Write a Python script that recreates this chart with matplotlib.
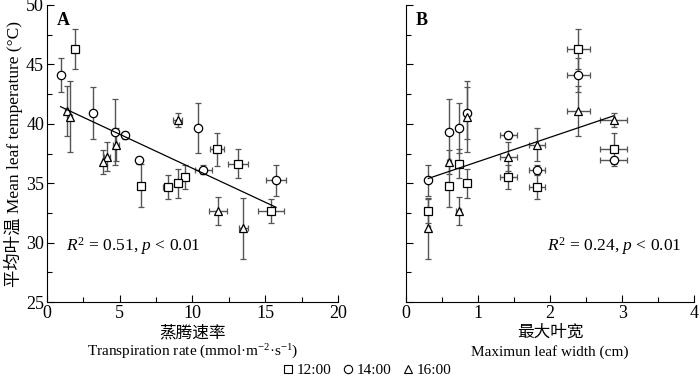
import numpy as np
import matplotlib
matplotlib.use("Agg")
import matplotlib.pyplot as plt
from matplotlib.lines import Line2D

plt.rcParams['font.family'] = ['Liberation Serif', 'Noto Sans CJK SC']
plt.rcParams['mathtext.fontset'] = 'custom'
plt.rcParams['mathtext.rm'] = 'Liberation Serif'
plt.rcParams['mathtext.it'] = 'Liberation Serif:italic'

# 8 species; values per time of day
times = ['12:00', '14:00', '16:00']
markers = ['s', 'o', '^']

leaf_width = [2.39, 2.88, 1.42, 1.82, 0.31, 0.60, 0.73, 0.85]
leaf_width_err = [0.16, 0.19, 0.12, 0.11, 0.02, 0.03, 0.03, 0.03]

temp_12 = [46.3, 37.85, 35.55, 34.7, 32.65, 34.8, 36.65, 35.0]
temp_14 = [44.1, 36.95, 39.05, 36.15, 35.25, 39.3, 39.65, 40.9]
temp_16 = [41.05, 40.35, 37.25, 38.25, 31.2, 36.8, 32.65, 40.6]
temp_12_err = [1.65, 1.4, 1.0, 1.0, 1.0, 1.8, 1.2, 1.2]
temp_14_err = [1.4, 0.3, 0.3, 0.4, 1.3, 2.8, 2.1, 2.2]
temp_16_err = [2.1, 0.6, 1.2, 1.4, 2.6, 1.0, 1.2, 3.0]

trans_12 = [1.9, 11.68, 9.5, 8.3, 15.4, 6.46, 13.1, 9.0]
trans_14 = [0.94, 6.3, 5.38, 10.74, 15.74, 4.65, 10.38, 3.18]
trans_16 = [1.35, 8.98, 4.1, 4.74, 13.5, 3.87, 11.75, 1.6]
trans_12_err = [0.1, 0.45, 0.15, 0.3, 0.87, 0.1, 0.69, 0.2]
trans_14_err = [0.1, 0.1, 0.2, 0.6, 0.7, 0.1, 0.1, 0.1]
trans_16_err = [0.1, 0.3, 0.2, 0.2, 0.3, 0.1, 0.6, 0.1]

# regression lines: (intercept, slope, x range)
fit_A = (41.98, -0.572, 0.94, 15.74)
fit_B = (34.77, 2.05, 0.31, 2.88)

temps = [temp_12, temp_14, temp_16]
temp_errs = [temp_12_err, temp_14_err, temp_16_err]
trans = [trans_12, trans_14, trans_16]
trans_errs = [trans_12_err, trans_14_err, trans_16_err]

fig = plt.figure(figsize=(7.0, 3.81), dpi=100)
axA = fig.add_axes([0.067, 0.207, 0.416, 0.780])
axB = fig.add_axes([0.580, 0.207, 0.412, 0.780])

ebcolor = '#555555'
for i in range(3):
    axA.errorbar(trans[i], temps[i], yerr=temp_errs[i], xerr=trans_errs[i],
                 fmt=markers[i], mfc='white', mec='black', mew=0.9, ms=6,
                 ecolor=ebcolor, elinewidth=1.0, capsize=2.5, capthick=1.0, zorder=3)
    axB.errorbar(leaf_width, temps[i], yerr=temp_errs[i], xerr=leaf_width_err,
                 fmt=markers[i], mfc='white', mec='black', mew=0.9, ms=6,
                 ecolor=ebcolor, elinewidth=1.0, capsize=2.5, capthick=1.0, zorder=3)

for ax, fit in ((axA, fit_A), (axB, fit_B)):
    b, m, x0, x1 = fit
    xs = np.array([x0, x1])
    ax.plot(xs, b + m * xs, color='black', lw=0.9, zorder=4)

axA.set_xlim(0, 20)
axB.set_xlim(0, 4)
for ax in (axA, axB):
    ax.set_ylim(25, 50)
    ax.spines['top'].set_visible(False)
    ax.spines['right'].set_visible(False)
    ax.tick_params(direction='in', labelsize=13, length=5, width=0.8, pad=2)
    ax.tick_params(which='minor', direction='in', length=3.5, width=0.8)
    ax.set_yticks([25, 30, 35, 40, 45, 50])
    ax.set_yticks([27.5, 32.5, 37.5, 42.5, 47.5], minor=True)
axB.set_yticklabels([])
axA.set_xticks([0, 5, 10, 15, 20])
axA.set_xticks([2.5, 7.5, 12.5, 17.5], minor=True)
axB.set_xticks([0, 1, 2, 3, 4])
axB.set_xticks([0.5, 1.5, 2.5, 3.5], minor=True)

axA.text(0.035, 0.975, 'A', transform=axA.transAxes, fontsize=13, fontweight='bold', va='top')
axB.text(0.035, 0.975, 'B', transform=axB.transAxes, fontsize=13, fontweight='bold', va='top')
axA.text(0.065, 0.19, r'$\mathit{R}^{2}$ = 0.51, $\mathit{p}$ < 0.01', transform=axA.transAxes, fontsize=12.5, va='center')
axB.text(0.49, 0.19, r'$\mathit{R}^{2}$ = 0.24, $\mathit{p}$ < 0.01', transform=axB.transAxes, fontsize=12.5, va='center')

axA.set_ylabel('平均叶温 Mean leaf temperature (°C)', fontsize=12.5, labelpad=2)

def xcenter(ax):
    bb = ax.get_position()
    return (bb.x0 + bb.x1) / 2

fig.text(xcenter(axA), 1 - 333 / 381, '蒸腾速率', ha='center', va='center', fontsize=12)
fig.text(xcenter(axA), 1 - 352 / 381, 'Transpiration rate (mmol·m$^{-2}$·s$^{-1}$)', ha='center', va='center', fontsize=11)
fig.text(xcenter(axB), 1 - 333 / 381, '最大叶宽', ha='center', va='center', fontsize=12)
fig.text(xcenter(axB), 1 - 352 / 381, 'Maximun leaf width (cm)', ha='center', va='center', fontsize=11)

handles = [Line2D([], [], marker=m, ls='none', mfc='white', mec='black', mew=0.8, ms=6) for m in markers]
fig.legend(handles, times, loc='center', bbox_to_anchor=(0.523, 1 - 370 / 381), ncol=3, frameon=False,
           fontsize=11, handletextpad=0.15, columnspacing=0.6, handlelength=0.9, borderpad=0)

fig.savefig('out.png', dpi=100)
